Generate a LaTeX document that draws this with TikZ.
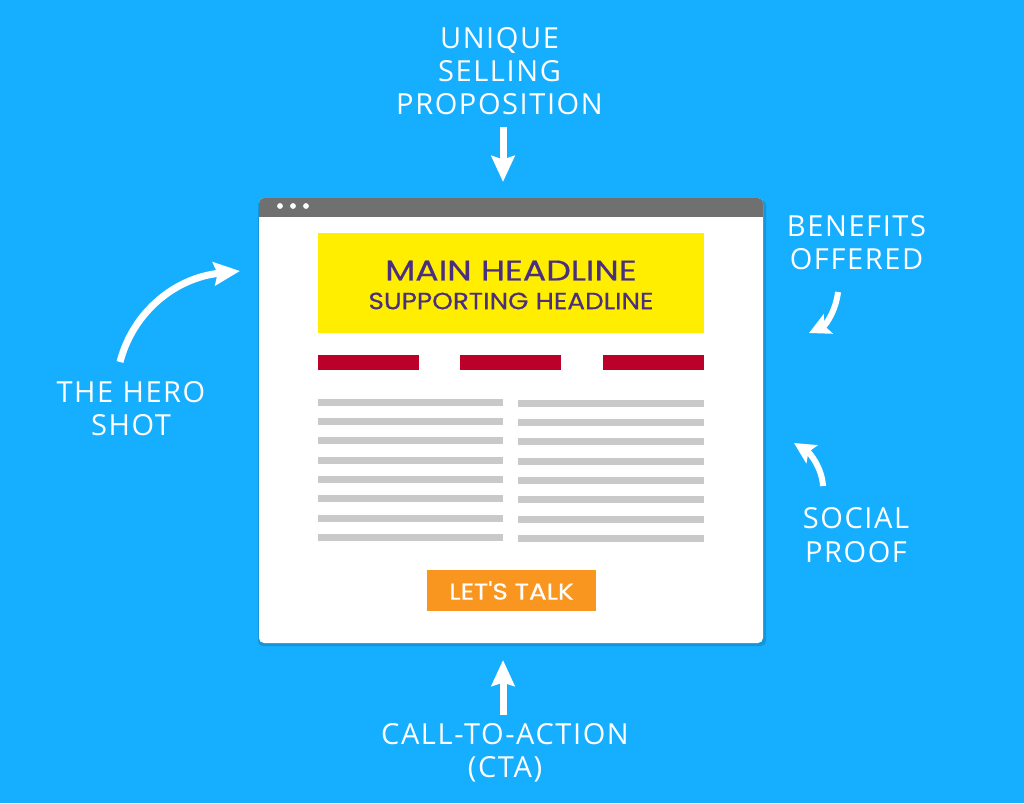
\documentclass[tikz,border=0pt]{standalone}
\usepackage{fontspec}
\setmainfont{Open Sans}
\newfontfamily\labelfont[LetterSpace=5.5]{Open Sans}
\newfontfamily\headfont[FakeBold=0.4]{Poppins}
\usetikzlibrary{arrows.meta}
\definecolor{bgblue}{HTML}{16AEFF}
\definecolor{shadowblue}{HTML}{1596D8}
\definecolor{barg}{HTML}{707070}
\definecolor{heady}{HTML}{FFEE00}
\definecolor{headp}{HTML}{4A2F80}
\definecolor{redbar}{HTML}{BB0029}
\definecolor{lineg}{HTML}{C9C9C9}
\definecolor{btn}{HTML}{F99620}
\tikzset{
  x=1pt,y=-1pt,
  lab/.style={text=white,font=\labelfont\fontsize{29}{33.3}\selectfont,align=center,inner sep=0pt},
  arr/.style={white,line width=7pt,-{Stealth[length=26pt,width=23pt,inset=3.5pt]}},
  sarr/.style={white,line width=6pt,-{Stealth[length=21pt,width=21pt,inset=4pt]}},
}
\begin{document}
\begin{tikzpicture}
\useasboundingbox[fill=bgblue] (0,0) rectangle (1024,803);
% window
\fill[shadowblue,rounded corners=5pt] (258,200) rectangle (766,646);
\node[fill=white,rounded corners=5pt,minimum width=504pt,minimum height=445pt,inner sep=0pt] (win) at (511,420.5) {};
\fill[barg,rounded corners=5pt] (259,198) rectangle (763,212);
\fill[barg] (259,206) rectangle (763,217);
\foreach \x in {280,293,306} \fill[white] (\x,206) circle (2.9pt);
% headline
\node[fill=heady,minimum width=386pt,minimum height=100pt,inner sep=0pt] (hd) at (511,283) {};
\node[text=headp,font=\headfont\fontsize{28.5}{30}\selectfont,inner sep=0pt] (h1) at (511,270.5) {\scalebox{1.22}[1]{MAIN HEADLINE}};
\node[text=headp,font=\headfont\fontsize{23.5}{24}\selectfont,inner sep=0pt] (h2) at (511,301) {\scalebox{1.12}[1]{SUPPORTING HEADLINE}};
% red bars
\foreach \x in {368.5,510.5,653.5}
  \node[fill=redbar,minimum width=101pt,minimum height=14.5pt,inner sep=0pt] at (\x,362.5) {};
% grey lines
\foreach \y in {402,421,440,460,479,498.5,518,537}
  \fill[lineg] (318,\y-3.5) rectangle (503,\y+3.5);
\foreach \y in {403,422,441,461,480,499.5,519,538}
  \fill[lineg] (518,\y-3.5) rectangle (704,\y+3.5);
% button
\node[fill=btn,minimum width=169pt,minimum height=41pt,inner sep=0pt,text=white,font=\headfont\fontsize{23}{24}\selectfont] (cta) at (511.5,590.5) {\scalebox{1.14}[1]{LET'S TALK}};
% labels
\node[lab] (usp) at (499.5,71) {UNIQUE\\SELLING\\PROPOSITION};
\node[lab] (hero) at (131,408.5) {THE HERO\\SHOT};
\node[lab] (ben) at (856.5,242.5) {BENEFITS\\OFFERED};
\node[lab] (soc) at (856,535) {SOCIAL\\PROOF};
\node[lab] (calla) at (505,753) {CALL-TO-ACTION\\(CTA)};
% arrow ends
\coordinate (uspS) at (503,127);
\coordinate (uspT) at (503,182);
\coordinate (ctaS) at (503,715);
\coordinate (ctaT) at (503,660);
\coordinate (heroS) at (120,362);
\coordinate (heroT) at (240,271);
\coordinate (benS) at (838,292);
\coordinate (benT) at (809,333);
\coordinate (socS) at (823,486);
\coordinate (socT) at (794,443);
\draw[arr] (uspS) -- (uspT);
\draw[arr] (ctaS) -- (ctaT);
\draw[arr] (heroS) .. controls (133,312) and (175,278) .. (heroT);
\draw[sarr] (benS) .. controls (836,310) and (826,325) .. (benT);
\draw[sarr] (socS) .. controls (822,468) and (810,453) .. (socT);
\end{tikzpicture}
\end{document}
